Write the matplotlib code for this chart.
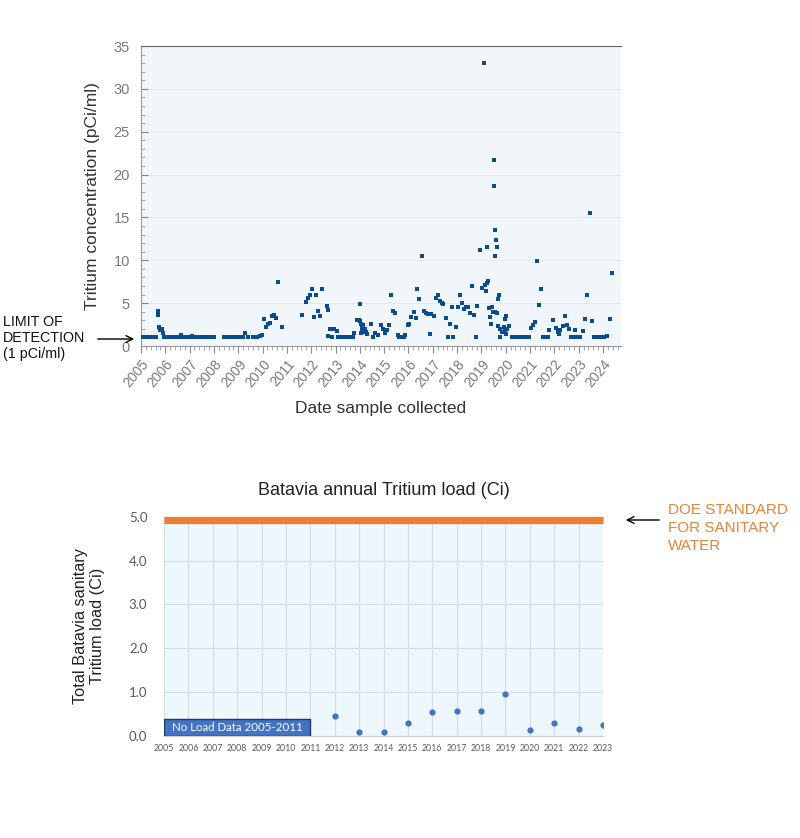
import matplotlib
matplotlib.use("Agg")
import matplotlib.pyplot as plt
from matplotlib.ticker import MultipleLocator, FormatStrFormatter
from matplotlib.patches import Rectangle

plt.rcParams['font.family'] = ['Liberation Sans', 'DejaVu Sans']

# ---------------- Top chart data (decimal year, pCi/ml) ----------------
sample_dates = [
    2005.00, 2005.08, 2005.17, 2005.25, 2005.33, 2005.42, 2005.50,
    2005.62, 2005.70, 2005.71, 2005.72, 2005.80, 2005.86, 2005.90,
    2005.95, 2006.05, 2006.15, 2006.25, 2006.35, 2006.45, 2006.55, 2006.63,
    2006.72, 2006.82, 2006.92, 2007.02, 2007.10, 2007.20, 2007.30, 2007.40,
    2007.50, 2007.60, 2007.73, 2007.82, 2007.92, 2008.02,
    2008.40, 2008.50, 2008.60, 2008.70, 2008.80, 2008.90, 2009.00, 2009.10,
    2009.20, 2009.28, 2009.42,
    2009.62, 2009.70, 2009.78, 2009.90, 2009.99,
    2010.06, 2010.13, 2010.21, 2010.31, 2010.40, 2010.47, 2010.56, 2010.65, 2010.79,
    2011.61, 2011.78, 2011.86, 2011.95, 2012.02, 2012.12, 2012.20, 2012.28,
    2012.37, 2012.46, 2012.64, 2012.70, 2012.70, 2012.78, 2012.85, 2012.85,
    2012.94, 2013.05, 2013.12, 2013.22, 2013.32, 2013.42, 2013.52, 2013.62,
    2013.72, 2013.78, 2013.87, 2013.97, 2013.99,
    2014.02, 2014.05, 2014.08, 2014.10, 2014.13, 2014.16, 2014.20, 2014.24,
    2014.06, 2014.12, 2014.30, 2014.45, 2014.53, 2014.63, 2014.73,
    2014.86, 2014.94, 2015.05, 2015.11, 2015.19, 2015.29, 2015.36, 2015.44,
    2015.55, 2015.63, 2015.71, 2015.80, 2015.86, 2015.96, 2016.04, 2016.11,
    2016.21, 2016.29, 2016.37, 2016.44, 2016.54, 2016.62, 2016.71, 2016.82,
    2016.87, 2016.92, 2017.03, 2017.13, 2017.21, 2017.28, 2017.37, 2017.44,
    2017.54, 2017.62, 2017.69, 2017.78, 2017.85, 2017.95, 2018.03, 2018.10,
    2018.20, 2018.28, 2018.36, 2018.43, 2018.54, 2018.61, 2018.70, 2018.78,
    2018.81, 2018.95, 2019.03, 2019.11, 2019.13, 2019.20, 2019.22, 2019.24,
    2019.29, 2019.33, 2019.36, 2019.39, 2019.43, 2019.46, 2019.50, 2019.53,
    2019.54, 2019.57, 2019.60, 2019.66, 2019.57, 2019.64, 2019.68, 2019.72,
    2019.70, 2019.77, 2019.84, 2019.91, 2019.98, 2020.02, 2020.07, 2020.14,
    2019.77, 2019.95, 2020.01,
    2020.25, 2020.35, 2020.45, 2020.55, 2020.65, 2020.75, 2020.85, 2020.95,
    2021.05, 2021.12, 2021.21, 2021.28, 2021.36, 2021.45, 2021.53, 2021.63,
    2021.72, 2021.79, 2021.94, 2022.05, 2022.13, 2022.20, 2022.24, 2022.35,
    2022.45, 2022.52, 2022.60, 2022.68, 2022.79, 2022.86, 2022.95, 2023.06,
    2023.17, 2023.28, 2023.36, 2023.45, 2023.53, 2023.61, 2023.72, 2023.83,
    2023.94, 2024.05, 2024.16, 2024.27, 2024.36,
]
tritium_pci_ml = [
    1.0, 1.0, 1.0, 1.0, 1.0, 1.0, 1.1,
    1.1, 4.1, 3.6, 2.25, 1.9, 2.0, 1.5,
    1.0, 1.0, 1.0, 1.0, 1.0, 1.0, 1.0, 1.3,
    1.0, 1.0, 1.0, 1.0, 1.2, 1.0, 1.0, 1.0,
    1.0, 1.0, 1.1, 1.0, 1.0, 1.0,
    1.0, 1.0, 1.0, 1.0, 1.0, 1.0, 1.0, 1.0,
    1.0, 1.5, 1.0,
    1.0, 1.0, 1.0, 1.2, 1.3,
    3.2, 2.25, 2.55, 2.7, 3.5, 3.6, 3.3, 7.5, 2.2,
    3.6, 5.1, 5.6, 5.9, 6.7, 3.4, 5.9, 4.1,
    3.5, 6.6, 4.7, 4.2, 1.2, 2.0, 1.1, 2.0,
    2.0, 1.8, 1.0, 1.0, 1.0, 1.0, 1.0, 1.0,
    1.0, 1.5, 3.0, 3.0, 4.9,
    2.9, 2.6, 2.2, 2.0, 1.8, 1.6, 2.0, 1.6,
    1.5, 2.4, 1.4, 2.55, 1.0, 1.5, 1.3,
    2.4, 2.0, 1.5, 1.9, 2.5, 5.95, 4.1, 3.9,
    1.25, 1.0, 1.0, 1.0, 1.25, 2.4, 2.55, 3.4,
    4.0, 3.3, 6.7, 5.5, 10.5, 4.1, 3.8, 3.7,
    1.4, 3.7, 3.5, 5.6, 5.9, 5.2, 5.0, 4.9,
    3.3, 1.0, 2.6, 4.5, 1.0, 2.25, 4.5, 6.0,
    5.0, 4.3, 4.6, 4.6, 3.9, 7.0, 3.6, 1.1,
    4.7, 11.2, 6.8, 33.0, 7.1, 6.4, 7.3, 11.6,
    7.6, 4.4, 3.4, 2.6, 4.5, 4.0, 18.7, 21.7,
    13.5, 10.5, 12.4, 11.5, 4.0, 3.9, 5.5, 5.95,
    2.3, 2.0, 1.6, 2.2, 1.9, 1.4, 2.0, 2.3,
    1.0, 3.2, 3.5,
    1.0, 1.0, 1.0, 1.0, 1.0, 1.0, 1.0, 1.0,
    2.1, 2.4, 2.8, 9.9, 4.8, 6.6, 1.0, 1.0,
    1.0, 1.9, 3.0, 2.1, 1.6, 1.35, 1.9, 2.3,
    3.5, 2.4, 2.0, 1.0, 1.0, 1.9, 1.0, 1.0,
    1.8, 3.2, 5.95, 15.5, 2.9, 1.0, 1.1, 1.0,
    1.0, 1.0, 1.2, 3.2, 8.5,
]
year_ticks = list(range(2005, 2025))

# ---------------- Bottom chart data ----------------
load_years = [2012, 2013, 2014, 2015, 2016, 2017, 2018, 2019, 2020, 2021, 2022, 2023]
annual_load_ci = [0.45, 0.09, 0.09, 0.28, 0.54, 0.56, 0.57, 0.94, 0.13, 0.29, 0.16, 0.24]
load_axis_years = list(range(2005, 2024))
doe_standard_ci = 5.0
no_data_span = (2005, 2011)

W, H = 800, 838
fig = plt.figure(figsize=(W / 100, H / 100), dpi=100)

# ---------------- Top chart ----------------
L, R, T, B = 141, 621, 46, 346
ax1 = fig.add_axes([L / W, 1 - B / H, (R - L) / W, (B - T) / H])
ax1.set_facecolor('#f1f6fa')
ax1.scatter(sample_dates, tritium_pci_ml, marker='s', s=9, color='#0b4b8f',
            linewidths=0, zorder=3)
ax1.set_xlim(2005, 2024.74)
ax1.set_ylim(0, 35)
ax1.set_xticks(year_ticks)
ax1.set_xticklabels([str(y) for y in year_ticks], rotation=50, ha='right',
                    rotation_mode='anchor', fontsize=10, color='#7a7a7a')
ax1.xaxis.set_minor_locator(MultipleLocator(0.2))
ax1.yaxis.set_major_locator(MultipleLocator(5))
ax1.yaxis.set_minor_locator(MultipleLocator(1))
ax1.tick_params(axis='y', which='major', direction='in', length=5, color='#888888',
                labelsize=10.5, labelcolor='#7a7a7a', pad=8)
ax1.tick_params(axis='y', which='minor', direction='in', length=3, color='#999999')
ax1.tick_params(axis='x', which='major', direction='out', length=5, color='#888888', pad=3)
ax1.tick_params(axis='x', which='minor', direction='out', length=3, color='#999999')
ax1.grid(axis='y', which='major', color='#e3e8ec', linewidth=0.8)
ax1.set_axisbelow(True)
ax1.spines['right'].set_visible(False)
ax1.spines['top'].set_color('#666666')
ax1.spines['left'].set_color('#999999')
ax1.spines['bottom'].set_color('#999999')
ax1.set_ylabel('Tritium concentration (pCi/ml)', fontsize=12.5, color='#333333', labelpad=10)
ax1.set_xlabel('Date sample collected', fontsize=12.5, color='#333333', labelpad=8)

fig.text(3 / W, 1 - 338 / H, 'LIMIT OF\nDETECTION\n(1 pCi/ml)', fontsize=10.3,
         ha='left', va='center', linespacing=1.15, color='#111111')
fig.add_artist(matplotlib.patches.FancyArrowPatch(
    (95 / W, 1 - 339 / H), (137 / W, 1 - 339 / H), transform=fig.transFigure,
    arrowstyle='->', mutation_scale=12, color='black', lw=1))

# ---------------- Bottom chart ----------------
L2, R2, T2, B2 = 164, 603, 517, 735.5
ax2 = fig.add_axes([L2 / W, 1 - B2 / H, (R2 - L2) / W, (B2 - T2) / H])
ax2.set_facecolor('#eef8fc')
ax2.set_xlim(load_axis_years[0], load_axis_years[-1])
ax2.set_ylim(0, 5.0)
ax2.set_xticks(load_axis_years)
ax2.set_xticklabels([str(y) for y in load_axis_years], fontsize=6.3, color='#595959',
                    family=['Lato', 'DejaVu Sans'])
ax2.set_yticks([0, 1, 2, 3, 4, 5])
ax2.yaxis.set_major_formatter(FormatStrFormatter('%.1f'))
for lab in ax2.get_yticklabels():
    lab.set_family(['Lato', 'DejaVu Sans'])
ax2.tick_params(axis='both', length=0, labelsize=9.5, labelcolor='#595959')
ax2.tick_params(axis='x', labelsize=6.3, pad=6)
ax2.tick_params(axis='y', pad=12)
ax2.grid(True, color='#d6dde2', linewidth=0.8)
ax2.set_axisbelow(True)
for s in ['top', 'right', 'left']:
    ax2.spines[s].set_visible(False)
ax2.spines['bottom'].set_color('#c8cfd4')

ax2.axhline(doe_standard_ci - 0.06, color='#ed7d31', linewidth=5.2, clip_on=False,
            zorder=4, solid_capstyle='butt')
ax2.scatter(load_years, annual_load_ci, s=20, color='#4472c4', zorder=5, linewidths=0)

ax2.add_patch(Rectangle((no_data_span[0], 0), no_data_span[1] - no_data_span[0], 0.37,
                        facecolor='#4472c4', edgecolor='#1f3864', linewidth=1, zorder=4))
ax2.text((no_data_span[0] + no_data_span[1]) / 2, 0.185, 'No Load Data 2005-2011',
         ha='center', va='center', color='white', fontsize=8.3, zorder=6,
         family=['Lato', 'DejaVu Sans'])

ax2.set_title('Batavia annual Tritium load (Ci)', fontsize=13, color='#222222', pad=16)
ax2.set_ylabel('Total Batavia sanitary\nTritium load (Ci)', fontsize=11.8,
               color='#222222', labelpad=17)

fig.text(668 / W, 1 - 528 / H, 'DOE STANDARD\nFOR SANITARY\nWATER', fontsize=11,
         ha='left', va='center', color='#e8823a', linespacing=1.35)
fig.add_artist(matplotlib.patches.FancyArrowPatch(
    (662 / W, 1 - 520 / H), (623 / W, 1 - 520 / H), transform=fig.transFigure,
    arrowstyle='->', mutation_scale=12, color='black', lw=1))

fig.savefig('out.png', dpi=100)
